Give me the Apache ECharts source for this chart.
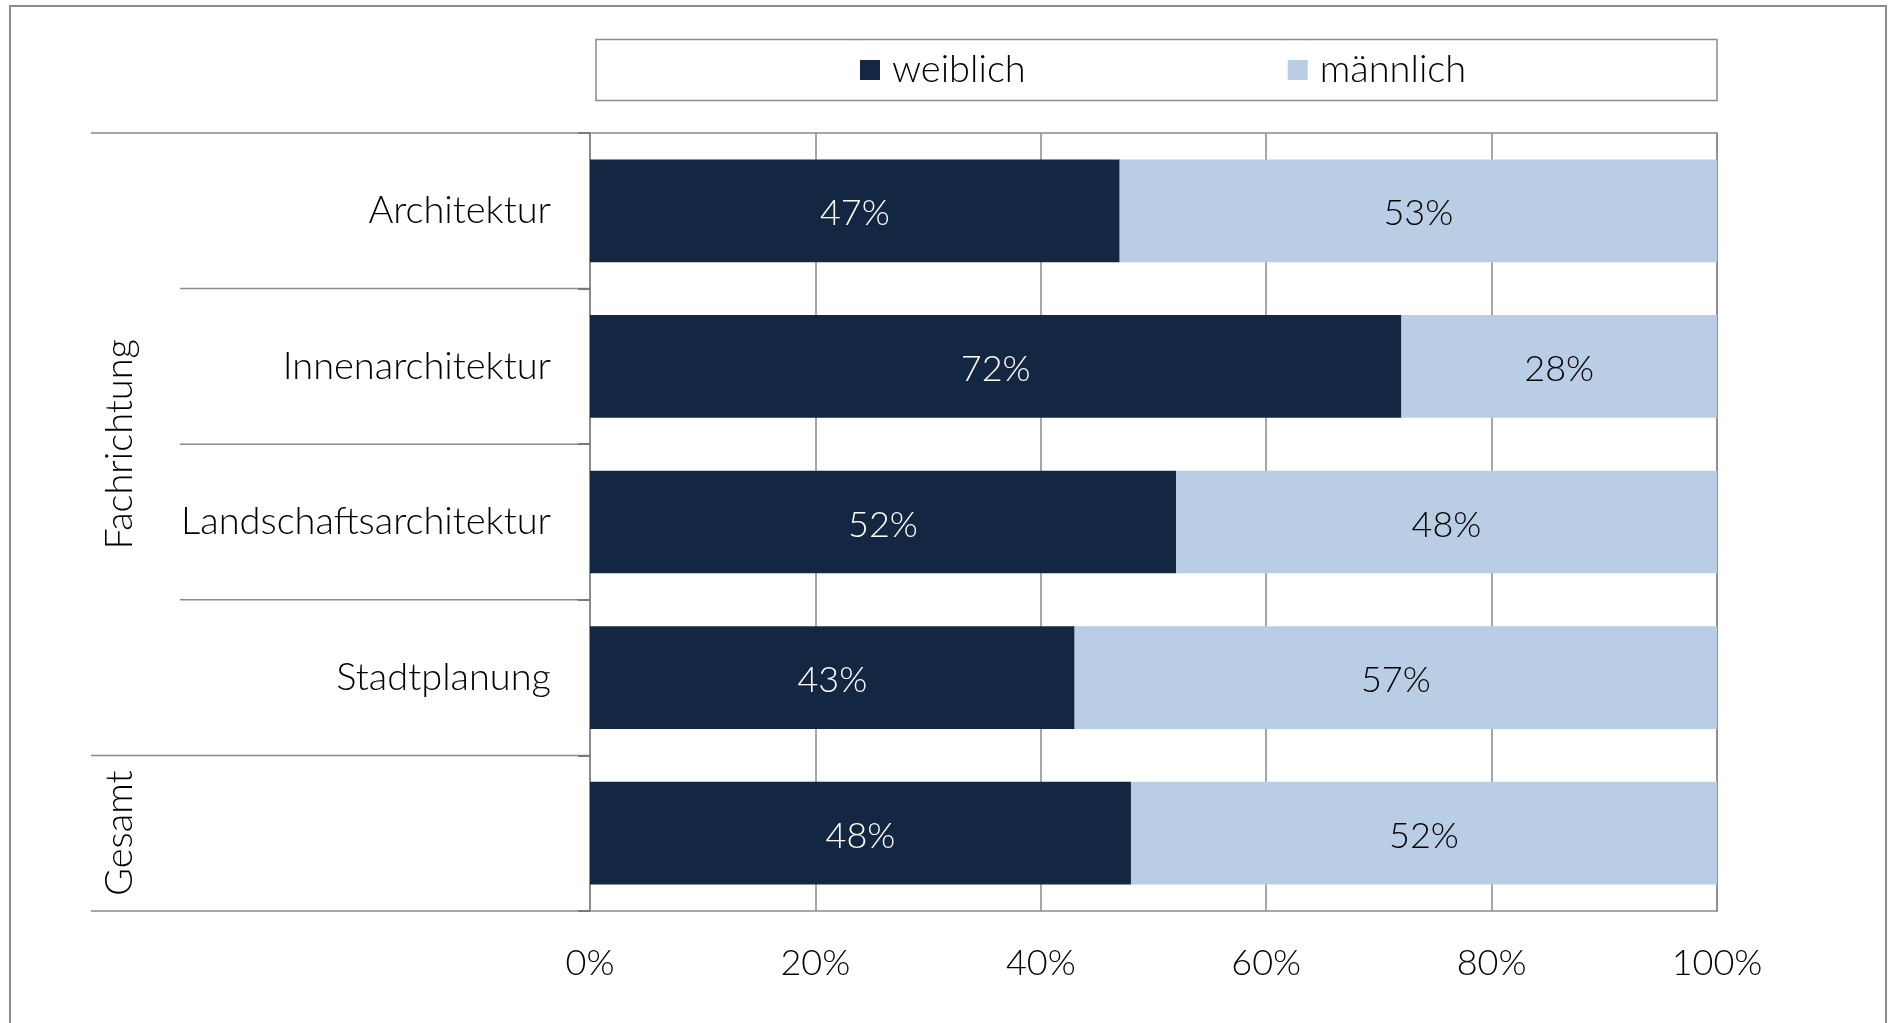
<!DOCTYPE html>
<html><head><meta charset="utf-8">
<script src="https://cdn.jsdelivr.net/npm/echarts@6/dist/echarts.min.js"></script>
<style>html,body{margin:0;padding:0;background:#fff}#c{width:1888px;height:1023px}</style>
</head><body><div id="c"></div>
<script>
// ---- data ----
const categories = ['Architektur','Innenarchitektur','Landschaftsarchitektur','Stadtplanung','Gesamt'];
const rowLabels = ['Architektur','Innenarchitektur','Landschaftsarchitektur','Stadtplanung',''];
const seriesNames = ['weiblich','männlich'];
const weiblich = [47,72,52,43,48];
const maennlich = [53,28,48,57,52];
const xMin = 0, xMax = 100, xStep = 20;
const groups = [
  {name:'Fachrichtung', first:0, last:3},
  {name:'Gesamt', first:4, last:4}
];

// ---- style ----
const FONT = 'Lato';
const FW = 300;
const FS = 36;   // numbers
const FT = 38;   // words
const DARK = '#132742';
const LIGHT = '#B9CDE5';
const GRID = '#8a8a8a';

const chart = echarts.init(document.getElementById('c'), null, {renderer:'canvas'});
const base = {
  animation: false,
  backgroundColor: '#fff',
  textStyle: {fontFamily: FONT, fontWeight: FW},
  legend: {
    left: 860, top: 51, padding: 0,
    itemWidth: 20, itemHeight: 20, itemGap: 262,
    icon: 'rect',
    data: seriesNames,
    textStyle: {fontFamily: FONT, fontWeight: FW, fontSize: FT, color: '#000', padding: [3,0,0,7]}
  },
  grid: {left: 590, right: 171, top: 133, bottom: 112, show: true, borderColor: GRID, borderWidth: 1.5, containLabel: false},
  xAxis: {
    type: 'value', min: xMin, max: xMax, interval: xStep,
    axisLine: {show: false}, axisTick: {show: false},
    splitLine: {show: true, lineStyle: {color: GRID, width: 1.5}},
    axisLabel: {formatter: '{value}%', fontFamily: FONT, fontWeight: FW, fontSize: FS, color: '#000', margin: 34, lineHeight: 36}
  },
  yAxis: {
    type: 'category', inverse: true, data: categories,
    axisLine: {show: true, lineStyle: {color: GRID, width: 1.5}},
    axisTick: {show: true, length: 12, lineStyle: {color: '#7a7a7a', width: 2}},
    axisLabel: {
      formatter: (v, i) => rowLabels[i],
      fontFamily: FONT, fontWeight: FW, fontSize: FT, color: '#000', margin: 39, padding: [5,0,0,0]
    }
  },
  series: [
    {name: seriesNames[0], type: 'bar', stack: 'total', data: weiblich, barCategoryGap: '34%',
     itemStyle: {color: DARK},
     label: {show: true, position: 'inside', offset: [0, 3], formatter: '{c}%', color: '#fff', fontFamily: FONT, fontWeight: FW, fontSize: FS}},
    {name: seriesNames[1], type: 'bar', stack: 'total', data: maennlich, barCategoryGap: '34%',
     itemStyle: {color: LIGHT},
     label: {show: true, position: 'inside', offset: [0, 3], formatter: '{c}%', color: '#000', fontFamily: FONT, fontWeight: FW, fontSize: FS}}
  ]
};
chart.setOption(base);

// ---- decorations computed from the axis ----
const c0 = chart.convertToPixel({yAxisIndex: 0}, categories[0]);
const c1 = chart.convertToPixel({yAxisIndex: 0}, categories[1]);
const band = c1 - c0;
const axisX = chart.convertToPixel({xAxisIndex: 0}, xMin);
const boundary = k => c0 - band / 2 + k * band;
const outerLeft = 91, innerLeft = 180, groupX = 120;

const graphics = [
  {type: 'rect', shape: {x: 10, y: 6, width: 1876, height: 1100}, style: {fill: null, stroke: '#8c8c8c', lineWidth: 2}, silent: true, z: -1},
  {type: 'rect', shape: {x: 596, y: 39.5, width: 1121, height: 61}, style: {fill: null, stroke: '#8c8c8c', lineWidth: 1.5}, silent: true, z: -1}
];
const groupStarts = new Set(groups.map(g => g.first));
for (let k = 0; k <= categories.length; k++) {
  const isOuter = groupStarts.has(k) || k === categories.length;
  graphics.push({type: 'line', shape: {x1: isOuter ? outerLeft : innerLeft, y1: boundary(k), x2: axisX, y2: boundary(k)},
    style: {stroke: GRID, lineWidth: 1.5}, silent: true});
}
groups.forEach(g => {
  const cy = (boundary(g.first) + boundary(g.last + 1)) / 2;
  graphics.push({type: 'text', x: groupX, y: cy, rotation: Math.PI / 2,
    style: {text: g.name, fontFamily: FONT, fontWeight: FW, fontSize: FT, fill: '#000', align: 'center', verticalAlign: 'middle'}, silent: true});
});
chart.setOption({graphic: graphics});
</script>
</body></html>
